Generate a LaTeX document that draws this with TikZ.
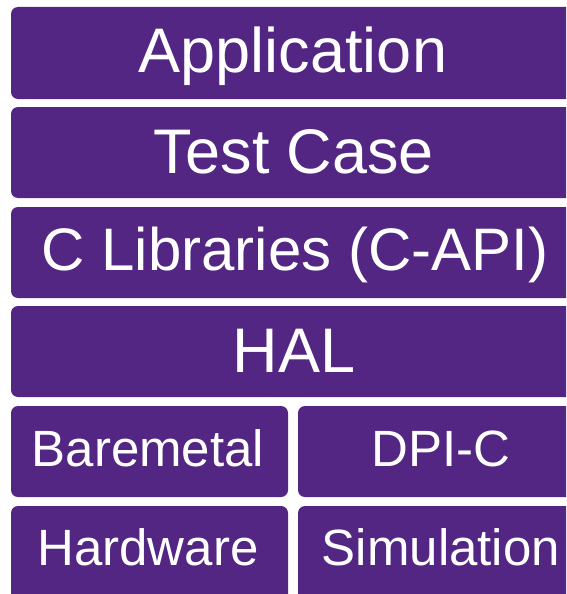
\documentclass[tikz,border=0pt]{standalone}
\usepackage{fontspec}
\setmainfont{Liberation Sans}
\definecolor{layerpurple}{RGB}{82,38,130}
\tikzset{
  layer/.style={fill=layerpurple, draw=none, rounded corners=7pt},
  biglabel/.style={text=white, anchor=base, inner sep=0pt, font=\fontsize{63}{70}\selectfont},
  smalllabel/.style={text=white, anchor=base, inner sep=0pt, font=\fontsize{51}{58}\selectfont},
}
\begin{document}
\begin{tikzpicture}[x=1pt,y=-1pt]
  \useasboundingbox (0,0) rectangle (566,594);
  \clip (0,0) rectangle (566,594);
  % full-width layers
  \fill[layer] (11,7)   rectangle (575,99);
  \fill[layer] (11,107) rectangle (575,198);
  \fill[layer] (11,207) rectangle (575,298);
  \fill[layer] (11,306) rectangle (575,397);
  % split layers
  \fill[layer] (11,406)  rectangle (288,497);
  \fill[layer] (298,406) rectangle (584,497);
  \fill[layer] (11,506)  rectangle (288,604);
  \fill[layer] (298,506) rectangle (584,604);
  % labels
  \node[biglabel] (app) at (293,73)  {Application};
  \node[biglabel] (tc)  at (294,173) {Test Case};
  \node[biglabel, font=\fontsize{60}{66}\selectfont] (clib) at (295,270) {C Libraries (C-API)};
  \node[biglabel] (hal) at (294,372) {HAL};
  \node[smalllabel] (bm)  at (148,466) {Baremetal};
  \node[smalllabel] (dpi) at (441,466) {DPI-C};
  \node[smalllabel] (hw)  at (148,565) {Hardware};
  \node[smalllabel] (sim) at (441,565) {Simulation};
\end{tikzpicture}
\end{document}
